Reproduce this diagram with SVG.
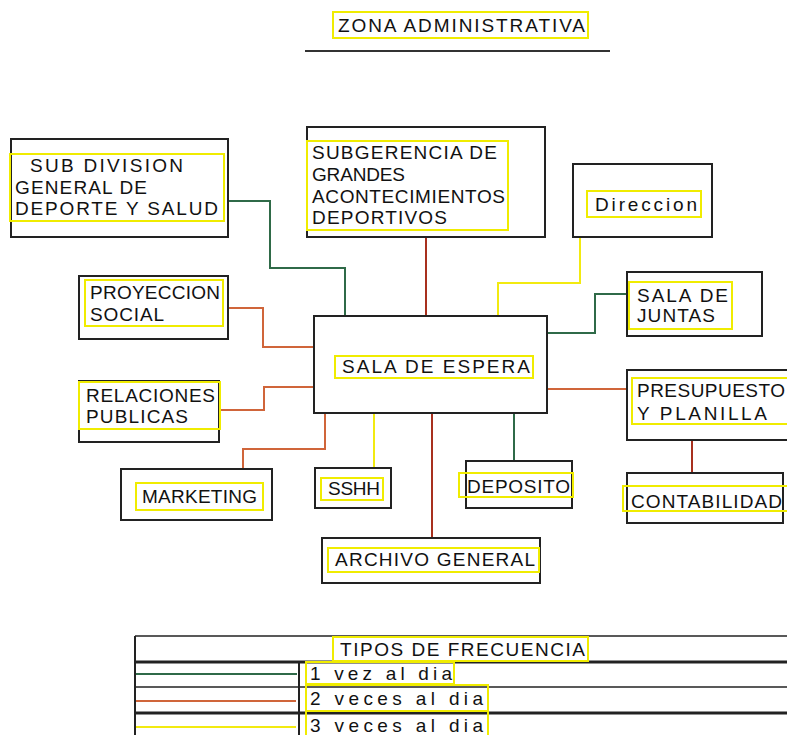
<svg xmlns="http://www.w3.org/2000/svg" width="787" height="735" viewBox="0 0 787 735">
<style>
.box{fill:none;stroke:#222;stroke-width:2}
.hl{fill:none;stroke:#f0ec00;stroke-width:2}
.t{font-family:"Liberation Sans","DejaVu Sans",sans-serif;font-size:19px;fill:#111}
.c{fill:none;stroke-width:2}
.g{stroke:#2f6a48}
.r{stroke:#a8301e}
.o{stroke:#d0653a}
.y{stroke:#f2ea10}
.k{stroke:#222;fill:none}
</style>
<rect width="787" height="735" fill="#fff"/>

<g id="title">
<rect class="hl" x="333" y="12" width="255" height="26"/>
<text class="t" x="338" y="32" textLength="247" lengthAdjust="spacing">ZONA ADMINISTRATIVA</text>
<line x1="305" y1="51" x2="610" y2="51" stroke="#333" stroke-width="2"/>
</g>

<g id="connectors">
<polyline class="c g" points="228,201 270,201 270,268 345,268 345,316"/>
<polyline class="c r" points="426,237 426,316"/>
<polyline class="c y" points="580,237 580,283 498,283 498,316"/>
<polyline class="c g" points="627,294 595,294 595,333 548,333"/>
<polyline class="c o" points="228,308 263,308 263,347 314,347"/>
<polyline class="c o" points="219,410 264,410 264,387 314,387"/>
<polyline class="c o" points="325,413 325,449 243,449 243,469"/>
<polyline class="c y" points="374,413 374,468"/>
<polyline class="c r" points="432,413 432,538"/>
<polyline class="c g" points="514,413 514,461"/>
<polyline class="c o" points="548,389 627,389"/>
<polyline class="c r" points="692,440 692,473"/>
</g>

<g id="sub-division">
<rect class="box" x="11" y="139" width="217" height="98"/>
<rect class="hl" x="10" y="154" width="214" height="67"/>
<text class="t" x="30" y="172" textLength="153" lengthAdjust="spacing">SUB DIVISION</text>
<text class="t" x="15" y="194" textLength="132" lengthAdjust="spacing">GENERAL DE</text>
<text class="t" x="15" y="215" textLength="203" lengthAdjust="spacing">DEPORTE Y SALUD</text>
</g>

<g id="subgerencia">
<rect class="box" x="307" y="127" width="238" height="110"/>
<rect class="hl" x="307" y="141" width="201" height="89"/>
<text class="t" x="312" y="159" textLength="185" lengthAdjust="spacing">SUBGERENCIA DE</text>
<text class="t" x="312" y="181" textLength="93" lengthAdjust="spacing">GRANDES</text>
<text class="t" x="312" y="203" textLength="193" lengthAdjust="spacing">ACONTECIMIENTOS</text>
<text class="t" x="312" y="224" textLength="135" lengthAdjust="spacing">DEPORTIVOS</text>
</g>

<g id="direccion">
<rect class="box" x="573" y="164" width="139" height="73"/>
<rect class="hl" x="587" y="191" width="114" height="26"/>
<text class="t" x="595" y="211" textLength="102" lengthAdjust="spacing">Direccion</text>
</g>

<g id="sala-juntas">
<rect class="box" x="627" y="272" width="135" height="64"/>
<rect class="hl" x="629" y="282" width="103" height="47"/>
<text class="t" x="637" y="302" textLength="91" lengthAdjust="spacing">SALA DE</text>
<text class="t" x="637" y="322" textLength="78" lengthAdjust="spacing">JUNTAS</text>
</g>

<g id="proyeccion">
<rect class="box" x="79" y="276" width="149" height="63"/>
<rect class="hl" x="85" y="280" width="138" height="46"/>
<text class="t" x="90" y="299" textLength="130" lengthAdjust="spacing">PROYECCION</text>
<text class="t" x="90" y="321" textLength="74" lengthAdjust="spacing">SOCIAL</text>
</g>

<g id="sala-espera">
<rect class="box" x="314" y="316" width="233" height="97" stroke-width="2.5"/>
<rect class="hl" x="335" y="356" width="198" height="22"/>
<text class="t" x="342" y="373" textLength="188" lengthAdjust="spacing">SALA DE ESPERA</text>
</g>

<g id="relaciones">
<rect class="box" x="79" y="381" width="140" height="61"/>
<rect class="hl" x="79" y="382" width="141" height="47"/>
<text class="t" x="86" y="402" textLength="129" lengthAdjust="spacing">RELACIONES</text>
<text class="t" x="86" y="423" textLength="102" lengthAdjust="spacing">PUBLICAS</text>
</g>

<g id="presupuesto">
<rect class="box" x="627" y="370" width="180" height="70"/>
<rect class="hl" x="632" y="378" width="175" height="46"/>
<text class="t" x="637" y="397" textLength="148" lengthAdjust="spacing">PRESUPUESTO</text>
<text class="t" x="637" y="420" textLength="130" lengthAdjust="spacing">Y PLANILLA</text>
</g>

<g id="marketing">
<rect class="box" x="121" y="469" width="151" height="51"/>
<rect class="hl" x="136" y="483" width="127" height="27"/>
<text class="t" x="142" y="503" textLength="115" lengthAdjust="spacing">MARKETING</text>
</g>

<g id="sshh">
<rect class="box" x="315" y="468" width="76" height="40"/>
<rect class="hl" x="321" y="478" width="62" height="22"/>
<text class="t" x="328" y="495" textLength="52" lengthAdjust="spacing">SSHH</text>
</g>

<g id="deposito">
<rect class="box" x="466" y="461" width="106" height="47"/>
<rect class="hl" x="459" y="473" width="114" height="24"/>
<text class="t" x="467" y="493" textLength="103" lengthAdjust="spacing">DEPOSITO</text>
</g>

<g id="contabilidad">
<rect class="box" x="627" y="473" width="156" height="50"/>
<rect class="hl" x="623" y="486" width="170" height="25"/>
<text class="t" x="631" y="508" textLength="151" lengthAdjust="spacing">CONTABILIDAD</text>
</g>

<g id="archivo">
<rect class="box" x="322" y="538" width="218" height="45"/>
<rect class="hl" x="328" y="548" width="211" height="24"/>
<text class="t" x="335" y="566" textLength="200" lengthAdjust="spacing">ARCHIVO GENERAL</text>
</g>

<g id="legend">
<line class="k" x1="135" y1="636" x2="800" y2="636" stroke-width="1.5"/>
<line class="k" x1="135" y1="662" x2="800" y2="662" stroke-width="3"/>
<line class="k" x1="135" y1="687" x2="800" y2="687" stroke-width="1.5"/>
<line class="k" x1="135" y1="713" x2="800" y2="713" stroke-width="3"/>
<line class="k" x1="135" y1="636" x2="135" y2="740" stroke-width="2"/>
<line class="k" x1="299" y1="662" x2="299" y2="740" stroke-width="2"/>
<line class="c g" x1="136" y1="674" x2="297" y2="674"/>
<line class="c o" x1="136" y1="701" x2="296" y2="701" stroke="#e08a66" stroke-width="2.5"/>
<line class="c y" x1="136" y1="727" x2="296" y2="727"/>
<rect class="hl" x="333" y="637" width="255" height="24"/>
<text class="t" x="340" y="656" textLength="245" lengthAdjust="spacing">TIPOS DE FRECUENCIA</text>
<rect class="hl" x="306" y="662" width="148" height="22"/>
<text class="t" x="310" y="680" textLength="142" lengthAdjust="spacing">1 vez al dia</text>
<rect class="hl" x="306" y="685" width="182" height="26"/>
<text class="t" x="310" y="705" textLength="173" lengthAdjust="spacing">2 veces al dia</text>
<rect class="hl" x="306" y="711" width="182" height="30"/>
<text class="t" x="310" y="732" textLength="173" lengthAdjust="spacing">3 veces al dia</text>
</g>
</svg>
